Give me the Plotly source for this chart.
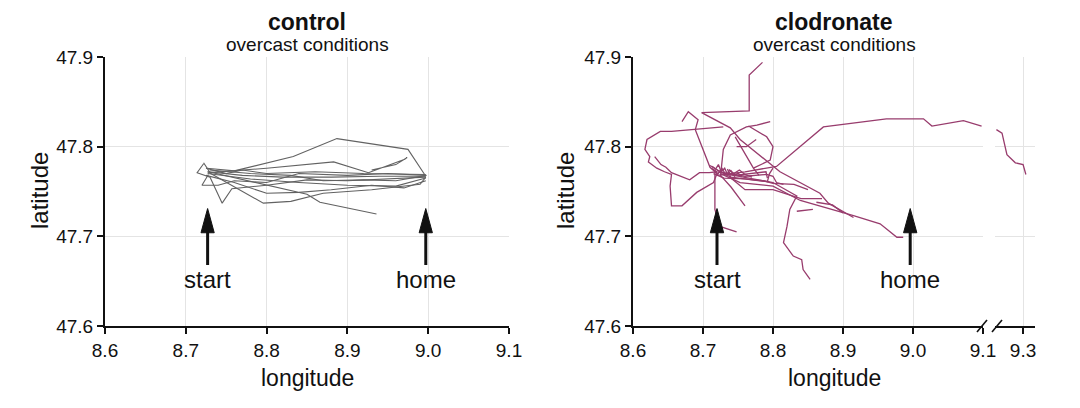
import plotly.graph_objects as go

# ---- data: homing tracks (lon, lat) ----
ctrl_1 = [(8.726, 47.776), (8.76, 47.773), (8.833, 47.789), (8.887, 47.809), (8.975, 47.797), (8.997, 47.767)]
ctrl_2 = [(8.722, 47.782), (8.73, 47.771), (8.80, 47.776), (8.883, 47.783), (8.926, 47.771), (8.971, 47.786),
          (8.974, 47.788), (8.96, 47.780), (8.93, 47.774)]
ctrl_3 = [(8.728, 47.772), (8.79, 47.759), (8.85, 47.747), (8.866, 47.738), (8.936, 47.725)]
ctrl_4 = [(8.722, 47.781), (8.714, 47.771), (8.73, 47.766), (8.745, 47.737), (8.757, 47.753), (8.80, 47.757),
          (8.85, 47.763), (8.90, 47.762), (8.997, 47.766)]
ctrl_5 = [(8.727, 47.772), (8.77, 47.768), (8.82, 47.766), (8.88, 47.766), (8.94, 47.767), (8.997, 47.767)]
ctrl_6 = [(8.727, 47.770), (8.78, 47.764), (8.84, 47.760), (8.90, 47.757), (8.96, 47.756), (8.997, 47.765)]
ctrl_7 = [(8.725, 47.768), (8.76, 47.760), (8.80, 47.748), (8.84, 47.749), (8.88, 47.752), (8.93, 47.757),
          (8.97, 47.754), (8.997, 47.762)]
ctrl_8 = [(8.73, 47.774), (8.78, 47.770), (8.83, 47.768), (8.87, 47.762), (8.92, 47.763), (8.96, 47.762), (8.998, 47.768)]
ctrl_9 = [(8.728, 47.769), (8.72, 47.757), (8.74, 47.757), (8.76, 47.762), (8.80, 47.760), (8.84, 47.770),
          (8.90, 47.768), (8.95, 47.770), (8.997, 47.768)]
ctrl_10 = [(8.727, 47.772), (8.76, 47.755), (8.796, 47.737), (8.83, 47.739), (8.87, 47.748), (8.93, 47.752),
           (8.99, 47.758), (8.997, 47.766)]
ctrl_11 = [(8.725, 47.776), (8.75, 47.770), (8.77, 47.774), (8.80, 47.770), (8.86, 47.772), (8.92, 47.770), (8.997, 47.769)]

clod_1 = [(8.785, 47.894), (8.766, 47.880), (8.766, 47.840), (8.698, 47.838), (8.739, 47.821), (8.753, 47.808),
          (8.810, 47.772), (8.867, 47.748), (8.879, 47.737), (8.915, 47.721)]
clod_2 = [(8.72, 47.768), (8.76, 47.772), (8.805, 47.778), (8.872, 47.822), (8.962, 47.831), (9.015, 47.831),
          (9.027, 47.823), (9.072, 47.829), (9.098, 47.823),
          (9.262, 47.819), (9.270, 47.815), (9.277, 47.791), (9.289, 47.782), (9.300, 47.780), (9.304, 47.769)]
clod_3 = [(8.729, 47.822), (8.677, 47.818), (8.655, 47.817), (8.639, 47.817), (8.620, 47.808), (8.617, 47.797),
          (8.624, 47.789), (8.622, 47.783), (8.634, 47.776), (8.645, 47.772), (8.655, 47.769), (8.653, 47.756),
          (8.655, 47.734), (8.670, 47.734), (8.691, 47.749), (8.715, 47.760), (8.72, 47.770)]
clod_4 = [(8.631, 47.789), (8.640, 47.780), (8.647, 47.777), (8.655, 47.771), (8.681, 47.763), (8.695, 47.771),
          (8.709, 47.771), (8.72, 47.772)]
clod_5 = [(8.670, 47.828), (8.679, 47.839), (8.693, 47.830), (8.689, 47.819), (8.71, 47.777), (8.72, 47.770)]
clod_6 = [(8.725, 47.767), (8.729, 47.797), (8.739, 47.813), (8.762, 47.822), (8.777, 47.824), (8.796, 47.828)]
clod_7 = [(8.765, 47.823), (8.791, 47.811), (8.80, 47.80), (8.796, 47.785), (8.772, 47.776)]
clod_8 = [(8.746, 47.811), (8.772, 47.776), (8.78, 47.768)]
clod_9 = [(8.776, 47.808), (8.762, 47.800), (8.748, 47.800)]
clod_10 = [(8.717, 47.772), (8.717, 47.730), (8.724, 47.711), (8.748, 47.705)]
clod_11 = [(8.725, 47.768), (8.74, 47.755), (8.76, 47.734)]
clod_12 = [(8.73, 47.770), (8.80, 47.760), (8.834, 47.745), (8.824, 47.730), (8.82, 47.711), (8.815, 47.693),
           (8.829, 47.678), (8.841, 47.674), (8.843, 47.663), (8.853, 47.652)]
clod_13 = [(8.725, 47.770), (8.753, 47.760), (8.80, 47.756), (8.839, 47.740), (8.915, 47.723), (8.953, 47.714),
           (8.977, 47.699), (8.986, 47.699)]
clod_14 = [(8.712, 47.776), (8.72, 47.772), (8.735, 47.770), (8.76, 47.767), (8.791, 47.769), (8.80, 47.767),
           (8.805, 47.760), (8.815, 47.758)]
clod_15 = [(8.72, 47.774), (8.74, 47.766), (8.77, 47.763), (8.792, 47.761), (8.795, 47.770), (8.80, 47.776)]
clod_16 = [(8.713, 47.778), (8.718, 47.775), (8.722, 47.780), (8.726, 47.772), (8.731, 47.776), (8.735, 47.769),
           (8.74, 47.773), (8.745, 47.767), (8.75, 47.771), (8.755, 47.766)]
clod_17 = [(8.834, 47.728), (8.857, 47.730)]
clod_18 = [(8.862, 47.738), (8.885, 47.735), (8.90, 47.726)]
clod_19 = [(8.71, 47.779), (8.725, 47.772), (8.745, 47.768), (8.77, 47.770), (8.79, 47.772), (8.792, 47.765)]
clod_20 = [(8.715, 47.770), (8.73, 47.765), (8.76, 47.764), (8.785, 47.762), (8.80, 47.759), (8.83, 47.758),
           (8.85, 47.752)]
clod_21 = [(8.735, 47.775), (8.74, 47.765), (8.76, 47.752), (8.80, 47.752), (8.84, 47.742), (8.87, 47.742)]
clod_22 = [(8.716, 47.774), (8.721, 47.769), (8.727, 47.776), (8.733, 47.768), (8.738, 47.774), (8.744, 47.770),
           (8.752, 47.774), (8.76, 47.769), (8.77, 47.766)]

control_tracks = [ctrl_1, ctrl_2, ctrl_3, ctrl_4, ctrl_5, ctrl_6, ctrl_7, ctrl_8, ctrl_9, ctrl_10, ctrl_11]
clodronate_tracks = [clod_1, clod_2, clod_3, clod_4, clod_5, clod_6, clod_7, clod_8, clod_9, clod_10,
                     clod_11, clod_12, clod_13, clod_14, clod_15, clod_16, clod_17, clod_18, clod_19,
                     clod_20, clod_21, clod_22]

arrow_labels = ["start", "home"]
arrow_lon_control = [8.727, 8.997]
arrow_lon_clodronate = [8.72, 8.996]
break_lon = 9.2  # longitudes east of this go to the right of the axis break

CTRL_COLOR = "#626262"
CLOD_COLOR = "#983c6d"
INK = "#111111"
FONT = "Liberation Sans, Arial, sans-serif"
W, H = 1080, 408
OFF = 8  # the page puts the plot 8px in from the top-left corner


def px(x):
    return (x - OFF) / W


def py(y):
    return 1 - (y - OFF) / H


fig = go.Figure()

for tr in control_tracks:
    fig.add_trace(go.Scatter(
        x=[p[0] for p in tr], y=[p[1] for p in tr], mode="lines",
        line={"color": CTRL_COLOR, "width": 1.1}, xaxis="x", yaxis="y", showlegend=False,
        hoverinfo="skip",
    ))

for tr in clodronate_tracks:
    west = [p for p in tr if p[0] < break_lon]
    east = [p for p in tr if p[0] >= break_lon]
    if west:
        fig.add_trace(go.Scatter(
            x=[p[0] for p in west], y=[p[1] for p in west], mode="lines",
            line={"color": CLOD_COLOR, "width": 1.3}, xaxis="x2", yaxis="y2", showlegend=False,
            hoverinfo="skip",
        ))
    if east:
        fig.add_trace(go.Scatter(
            x=[p[0] for p in east], y=[p[1] for p in east], mode="lines",
            line={"color": CLOD_COLOR, "width": 1.3}, xaxis="x3", yaxis="y3", showlegend=False,
            hoverinfo="skip",
        ))

# arrows: shaft + narrow filled head, label under the shaft
for xa, ya, lons, half in [("x", "y", arrow_lon_control, 0.0082), ("x2", "y2", arrow_lon_clodronate, 0.0095)]:
    for lab, lon in zip(arrow_labels, lons):
        fig.add_trace(go.Scatter(
            x=[lon, lon], y=[47.668, 47.708], mode="lines",
            line={"color": INK, "width": 3}, xaxis=xa, yaxis=ya, showlegend=False, hoverinfo="skip",
        ))
        fig.add_trace(go.Scatter(
            x=[lon - half, lon, lon + half, lon - half], y=[47.704, 47.731, 47.704, 47.704],
            mode="lines", fill="toself", fillcolor=INK, line={"color": INK, "width": 1},
            xaxis=xa, yaxis=ya, showlegend=False, hoverinfo="skip",
        ))
        fig.add_annotation(
            x=lon, y=47.652, xref=xa, yref=ya, text=lab, showarrow=False,
            xanchor="center", yanchor="middle",
            font={"size": 24, "color": INK, "family": FONT},
        )

axis_common = dict(
    showgrid=True, gridcolor="#e4e4e4", gridwidth=1, zeroline=False, automargin=False,
    showline=True, linecolor=INK, linewidth=2, ticks="outside", ticklen=6,
    tickwidth=2, tickcolor=INK, tickfont={"size": 19, "color": INK, "family": FONT},
)

lon_ticks = [8.6, 8.7, 8.8, 8.9, 9.0, 9.1]
lon_text = ["8.6", "8.7", "8.8", "8.9", "9.0", "9.1"]
lat_ticks = [47.6, 47.7, 47.8, 47.9]
lat_text = ["47.6", "47.7", "47.8", "47.9"]

ydom = [py(326), py(57)]
fig.update_layout(
    width=W, height=H,
    margin={"l": 0, "r": 0, "t": 0, "b": 0},
    paper_bgcolor="white", plot_bgcolor="white",
    xaxis=dict(axis_common, domain=[px(105), px(509)], range=[8.6, 9.1], tickvals=lon_ticks,
               ticktext=lon_text, anchor="y"),
    yaxis=dict(axis_common, domain=ydom, range=[47.6, 47.9], tickvals=lat_ticks,
               ticktext=lat_text, anchor="x"),
    xaxis2=dict(axis_common, domain=[px(633), px(983)], range=[8.6, 9.1], tickvals=lon_ticks,
                ticktext=lon_text, anchor="y2"),
    yaxis2=dict(axis_common, domain=ydom, range=[47.6, 47.9], tickvals=lat_ticks,
                ticktext=lat_text, anchor="x2"),
    xaxis3=dict(axis_common, domain=[px(995), px(1035)], range=[9.26, 9.317], tickvals=[9.3],
                ticktext=["9.3"], anchor="y3"),
    yaxis3=dict(axis_common, domain=ydom, range=[47.6, 47.9], tickvals=lat_ticks,
                showticklabels=False, showline=False, ticks="", anchor="x3"),
)

# axis break marks
for bx in [982, 997]:
    fig.add_shape(type="line", xref="paper", yref="paper",
                  x0=px(bx - 5), y0=py(332), x1=px(bx + 5), y1=py(320),
                  line={"color": INK, "width": 1.6})

# titles and axis labels
for cx, name in [(307, "control"), (834, "clodronate")]:
    fig.add_annotation(x=px(cx), y=1, xref="paper", yref="paper", text="<b>" + name + "</b>",
                       showarrow=False, xanchor="center", yanchor="top", borderpad=0,
                       font={"size": 23, "color": INK, "family": FONT})
    fig.add_annotation(x=px(cx), y=py(44), xref="paper", yref="paper", text="overcast conditions",
                       showarrow=False, xanchor="center", yanchor="middle",
                       font={"size": 19, "color": INK, "family": FONT})
    fig.add_annotation(x=px(cx), y=py(378), xref="paper", yref="paper", text="longitude",
                       showarrow=False, xanchor="center", yanchor="middle",
                       font={"size": 23, "color": INK, "family": FONT})
for cx in [40, 566]:
    fig.add_annotation(x=px(cx), y=py(191), xref="paper", yref="paper", text="latitude", textangle=-90,
                       showarrow=False, xanchor="center", yanchor="middle",
                       font={"size": 24, "color": INK, "family": FONT})

fig.write_html("out.html")
